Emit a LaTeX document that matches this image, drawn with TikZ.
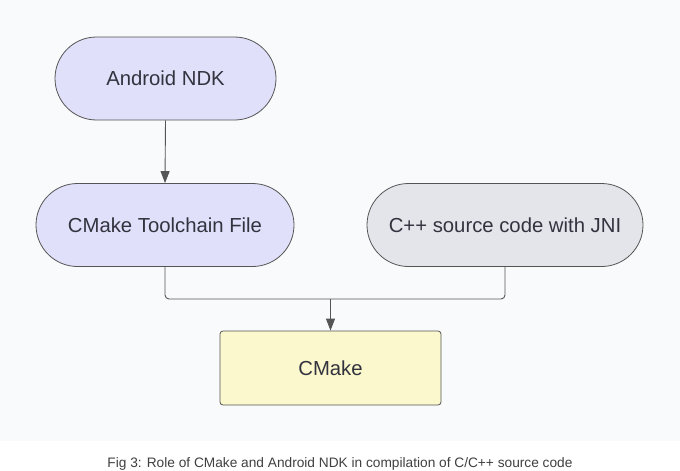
\documentclass[tikz,border=0pt]{standalone}
\usepackage{fontspec}
\setmainfont{Liberation Sans}
\usetikzlibrary{arrows.meta}
\definecolor{bgc}{HTML}{F9FAFC}
\definecolor{lav}{HTML}{E0E0FA}
\definecolor{grayfill}{HTML}{E3E5EA}
\definecolor{yel}{HTML}{FAF8CC}
\definecolor{edge}{HTML}{555555}
\definecolor{txt}{HTML}{33333F}
\definecolor{captc}{HTML}{404040}
\tikzset{
  pill/.style={draw=edge, line width=0.8pt, rounded corners=41.5pt, minimum height=83pt, inner sep=0pt, text=txt, font=\fontsize{20.3}{23}\selectfont},
  boxnode/.style={draw=edge, line width=0.8pt, rounded corners=3pt, minimum height=74pt, minimum width=221pt, inner sep=0pt, text=txt, font=\fontsize{20.3}{23}\selectfont, fill=yel},
  conn/.style={draw=edge, line width=0.9pt},
  arr/.style={conn, -{Triangle[length=12pt,width=9pt]}},
}
\begin{document}
\begin{tikzpicture}[x=1pt,y=-1pt]
\useasboundingbox (0,0) rectangle (680,471);
\fill[white] (0,0) rectangle (680,471);
\fill[bgc] (0,0) rectangle (680,441);
\node[pill, fill=lav, minimum width=221pt] (ndk) at (165.5,78.5) {Android NDK};
\node[pill, fill=lav, minimum width=258pt] (tool) at (165,225) {CMake Toolchain File};
\node[pill, fill=grayfill, minimum width=276pt] (cpp) at (505,225) {C++ source code with JNI};
\node[boxnode] (cmake) at (330.5,368) {CMake};
\coordinate (mid) at (330.5,299);
\draw[arr] (ndk.south) -- (tool.north);
\draw[conn, rounded corners=4pt] (tool.south) |- (mid);
\draw[conn, rounded corners=4pt] (tool.south -| cpp.south) |- (mid);
\draw[arr] (mid) -- (cmake.north);
\node[text=captc, font=\fontsize{13.7}{16}\selectfont, anchor=base] (cap) at (340,467) {Fig 3: Role of CMake and Android NDK in compilation of C/C++ source code};
\end{tikzpicture}
\end{document}
